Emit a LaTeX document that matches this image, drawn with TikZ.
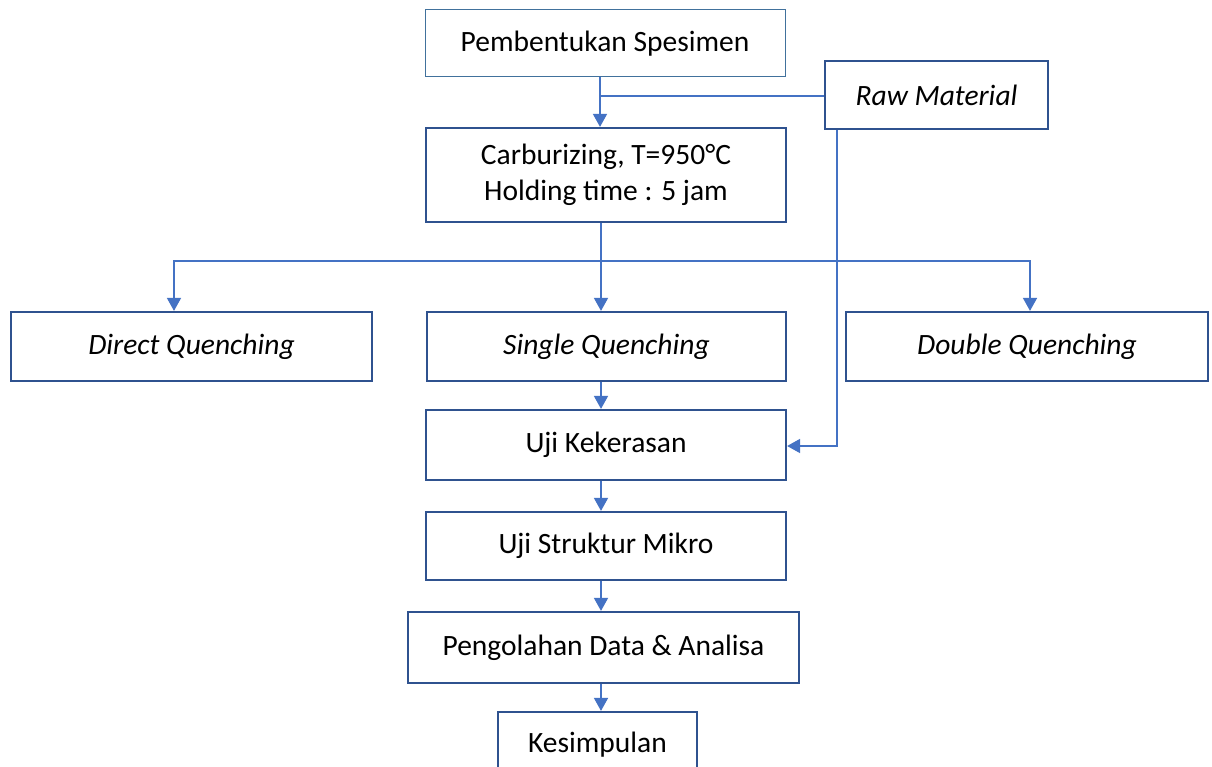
\documentclass[tikz,border=0pt]{standalone}
\usepackage{fontspec}
\setmainfont{Carlito}
\usetikzlibrary{arrows.meta}
\definecolor{boxblue}{HTML}{2F528F}
\definecolor{thinblue}{HTML}{41719C}
\definecolor{lineblue}{HTML}{4472C4}
\begin{document}
\begin{tikzpicture}[x=1pt,y=-1pt,
  box/.style={draw=boxblue,line width=2.2pt,fill=white,inner sep=0pt,font=\fontsize{29.5}{36}\selectfont,align=center},
  conn/.style={draw=lineblue,line width=1.6pt},
  arr/.style={conn,-{Triangle[width=14pt,length=13pt]}}]
\useasboundingbox (0,0) rectangle (1212,767);
\fill[white] (0,0) rectangle (1212,767);
% boxes
\node[box,draw=thinblue,line width=1pt,minimum width=360pt,minimum height=67pt] (pb) at (605,43.5) {Pembentukan Spesimen};
\node[box,minimum width=223pt,minimum height=68pt] (rm) at (936.5,95) {\itshape Raw Material};
\node[box,minimum width=360pt,minimum height=94pt] (cb) at (606,175) {Carburizing, T=950°C\\Holding time : 5 jam};
\node[box,minimum width=361pt,minimum height=69pt] (dq) at (191.5,346.5) {\itshape Direct Quenching};
\node[box,minimum width=359pt,minimum height=69pt] (sq) at (606.5,346.5) {\itshape Single Quenching};
\node[box,minimum width=362pt,minimum height=69pt] (wq) at (1027,346.5) {\itshape Double Quenching};
\node[box,minimum width=360pt,minimum height=70pt] (uk) at (606,445) {Uji Kekerasan};
\node[box,minimum width=360pt,minimum height=68pt] (us) at (606,546) {Uji Struktur Mikro};
\node[box,minimum width=391pt,minimum height=71pt] (pd) at (603.5,647.5) {Pengolahan Data \& Analisa};
\node[box,minimum width=199pt,minimum height=70pt] (ks) at (597.5,747) {};
\node[font=\fontsize{29.5}{36}\selectfont] (kst) at (597.5,745) {Kesimpulan};
% connectors
\coordinate (j1) at (600,96);
\draw[arr] (pb.south -| j1) -- (cb.north -| j1);
\draw[conn] (j1) -- (rm.west |- j1);
\coordinate (r1) at (837,446);
\draw[arr] (rm.south -| r1) -- (r1) -- (uk.east |- r1);
\coordinate (h1) at (601,261);
\coordinate (hl) at (174,261);
\coordinate (hr) at (1030,261);
\draw[arr] (cb.south -| h1) -- (sq.north -| h1);
\draw[arr] (h1) -- (hl) -- (dq.north -| hl);
\draw[arr] (h1) -- (hr) -- (wq.north -| hr);
\coordinate (v) at (601,0);
\draw[arr] (sq.south -| v) -- (uk.north -| v);
\draw[arr] (uk.south -| v) -- (us.north -| v);
\draw[arr] (us.south -| v) -- (pd.north -| v);
\draw[arr] (pd.south -| v) -- (ks.north -| v);
\end{tikzpicture}
\end{document}
